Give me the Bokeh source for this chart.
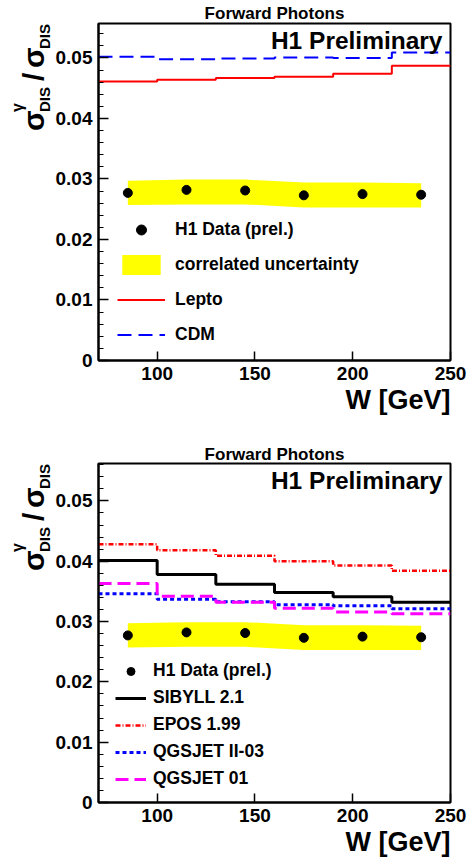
from bokeh.plotting import figure
from bokeh.models import (Range1d, FixedTicker, CustomJSTickFormatter, Label,
                          Legend, LegendItem, Title, Div)
from bokeh.layouts import column, row
from bokeh.embed import file_html
from bokeh.resources import INLINE

# ---------------- data ----------------
w_edges = [70, 100, 130, 160, 190, 220, 250]
w_centers = [85, 115, 145, 175, 205, 235]

h1_data = [0.0277, 0.0282, 0.0281, 0.0273, 0.0275, 0.0274]
band_upper = [0.0297, 0.0299, 0.0299, 0.0294, 0.0294, 0.0293]
band_lower = [0.0257, 0.0258, 0.0258, 0.0253, 0.0253, 0.0253]

lepto = [0.0461, 0.0464, 0.0467, 0.0469, 0.0474, 0.0487]
cdm = [0.0502, 0.0498, 0.0499, 0.0501, 0.0500, 0.0509]

sibyll = [0.0401, 0.0378, 0.0362, 0.0348, 0.0341, 0.0332]
epos = [0.0428, 0.0418, 0.0409, 0.0400, 0.0393, 0.0384]
qgsjet2 = [0.0346, 0.0337, 0.0333, 0.0328, 0.0326, 0.0321]
qgsjet01 = [0.0363, 0.0342, 0.0332, 0.0322, 0.0316, 0.0313]

x_ticks = [100, 150, 200, 250]
y_ticks = [0.0, 0.01, 0.02, 0.03, 0.04, 0.05]

FONT = "Liberation Sans"
LAB_W = 52


def make_ylabel(height, frame_top):
    """Rotated y title sigma^gamma_DIS / sigma_DIS as HTML text."""
    pieces = [
        # text, left (px), distance below frame top, font size
        ("σ", 19, 108, 30),
        ("γ", 10, 89, 16),
        ("DIS", 37, 89, 15),
        ("/", 19, 58, 30),
        ("σ", 19, 45, 30),
        ("DIS", 37, 26, 15),
    ]
    spans = []
    for txt, left, d, fs in pieces:
        spans.append(
            f'<div style="position:absolute;left:{left}px;top:{frame_top + d}px;'
            f'transform-origin:0 0;transform:rotate(-90deg);white-space:nowrap;'
            f"font-family:'Liberation Sans',Arial,sans-serif;font-weight:bold;"
            f'font-size:{fs}px;line-height:1;color:black;">{txt}</div>')
    html = (f'<div style="position:relative;width:{LAB_W}px;height:{height}px;'
            f'margin:0;padding:0;overflow:visible;">' + "".join(spans) + "</div>")
    return Div(text=html, width=LAB_W, height=height, margin=0,
               styles={"padding": "0", "margin": "0", "background": "white"})


def make_panel(height, b_top, b_bottom, y_end, lines, cfg):
    p = figure(width=472 - LAB_W, height=height, output_backend="svg",
               toolbar_location=None, x_range=Range1d(70, 250),
               y_range=Range1d(0, y_end))
    p.min_border_left = 96 - LAB_W
    p.min_border_right = 22
    p.min_border_top = b_top
    p.min_border_bottom = b_bottom
    p.background_fill_color = "white"
    p.border_fill_color = "white"
    p.outline_line_color = "black"
    p.outline_line_width = 2
    p.grid.visible = False

    p.title = Title(text="Forward Photons", align="center", text_font=FONT,
                    text_font_style="bold", text_font_size="17px",
                    text_color="black", standoff=cfg["title_standoff"])
    p.add_layout(Title(text="W [GeV]", align="right", text_font=FONT,
                       text_font_style="bold", text_font_size="27px",
                       text_color="black", standoff=0), "below")

    p.xaxis.ticker = FixedTicker(ticks=x_ticks, minor_ticks=[])
    minor = [i * 0.002 for i in range(int(y_end / 0.002) + 1)]
    p.yaxis.ticker = FixedTicker(ticks=y_ticks, minor_ticks=minor)
    p.yaxis.formatter = CustomJSTickFormatter(
        code="return tick == 0 ? '0' : tick.toFixed(2);")
    for ax in (p.xaxis[0], p.yaxis[0]):
        ax.axis_line_width = 2
        ax.axis_line_color = "black"
        ax.major_tick_out = 0
        ax.minor_tick_out = 0
        ax.major_tick_line_width = 1.5
        ax.minor_tick_line_width = 1.2
        ax.major_label_text_font = FONT
        ax.major_label_text_font_style = "bold"
        ax.major_label_text_font_size = "19px"
        ax.major_label_text_color = "black"
        ax.major_label_standoff = 6
    p.xaxis.major_tick_in = 9
    p.yaxis.major_tick_in = 10
    p.yaxis.minor_tick_in = 5

    # correlated uncertainty band
    r_band = p.varea(x=w_centers, y1=band_lower, y2=band_upper,
                     fill_color="#ffff00", fill_alpha=1.0)
    renderers = {}
    for name, vals, color, dash, width in lines:
        renderers[name] = p.step(x=w_edges, y=vals + vals[-1:], mode="after",
                                 line_color=color, line_dash=dash,
                                 line_width=width)
    r_data = p.scatter(x=w_centers, y=h1_data, size=9, marker="circle",
                       fill_color="black", line_color="black")

    items = [LegendItem(label="H1 Data (prel.)", renderers=[r_data])]
    if cfg["band"]:
        items.append(LegendItem(label="correlated uncertainty",
                                renderers=[r_band]))
    for name, *_ in lines:
        items.append(LegendItem(label=name, renderers=[renderers[name]]))
    leg = Legend(items=items, location=cfg["loc"],
                 glyph_width=cfg["gw"], glyph_height=cfg["gh"],
                 label_height=cfg["gh"], spacing=cfg["sp"],
                 label_standoff=cfg["st"], padding=0, margin=0,
                 border_line_alpha=0, background_fill_alpha=0,
                 label_text_font=FONT, label_text_font_style="bold",
                 label_text_font_size="17.5px", label_text_color="black")
    p.add_layout(leg)

    p.add_layout(Label(x=250, y=y_end, x_offset=-8, y_offset=-17,
                       text="H1 Preliminary", text_align="right",
                       text_baseline="alphabetic", text_font=FONT,
                       text_font_style="bold", text_font_size="24.5px",
                       text_color="black"))
    return row(make_ylabel(height, b_top), p, spacing=0)


top_lines = [
    ("Lepto", lepto, "#ff0000", "solid", 2),
    ("CDM", cdm, "#0000ff", "14 7", 2),
]
bottom_lines = [
    ("SIBYLL 2.1", sibyll, "black", "solid", 3),
    ("EPOS 1.99", epos, "#ff0000", "5 2 1 2", 2.5),
    ("QGSJET II-03", qgsjet2, "#0000ff", "4 3", 3),
    ("QGSJET 01", qgsjet01, "#ff00ff", "13 6", 3),
]

p1 = make_panel(430, 23, 70, 0.0557, top_lines,
                dict(band=True, loc=(19, 13), gw=48, gh=25, sp=10, st=10,
                     title_standoff=2))
p2 = make_panel(433, 33, 61, 0.0562, bottom_lines,
                dict(band=False, loc=(17, 13), gw=31, gh=20, sp=6, st=7,
                     title_standoff=0))

layout = column(p1, p2, spacing=0)
open("out.html", "w").write(file_html(layout, INLINE))
